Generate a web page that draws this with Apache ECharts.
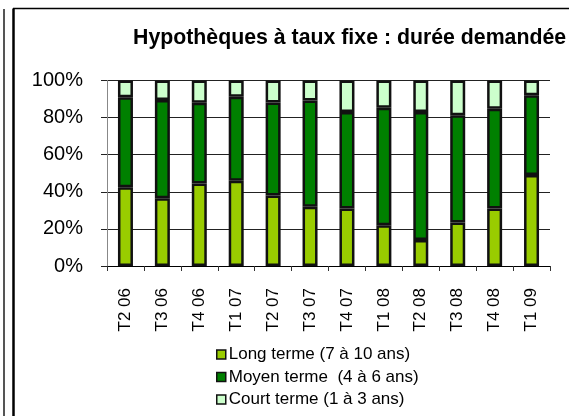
<!DOCTYPE html>
<html>
<head>
<meta charset="utf-8">
<script src="https://cdn.jsdelivr.net/npm/echarts@6/dist/echarts.min.js"></script>
<style>
  html, body { margin: 0; padding: 0; background: #fff; }
  #chart { width: 569px; height: 416px; }
</style>
</head>
<body>
<div id="chart"></div>
<script>
const quarters = ['T2 06', 'T3 06', 'T4 06', 'T1 07', 'T2 07', 'T3 07', 'T4 07', 'T1 08', 'T2 08', 'T3 08', 'T4 08', 'T1 09']
const longTerm = [42.5, 36.5, 44.5, 46, 38, 32, 31, 22, 14, 23.5, 31, 49]
const mediumTerm = [48.5, 53, 43.5, 45.3, 50.2, 57.2, 52, 63.3, 69, 57.8, 53.8, 43.1]
const shortTerm = [9, 10.5, 12, 8.7, 11.8, 10.8, 17, 14.7, 17, 18.7, 15.2, 7.9]
const yTicks = [0, 20, 40, 60, 80, 100]

const font = 'Liberation Sans, Arial, sans-serif'
const chart = echarts.init(document.getElementById('chart'))

function barSeries(name, data, color) {
  return {
    name,
    type: 'bar',
    stack: 'total',
    data,
    barWidth: 15,
    itemStyle: { color, borderColor: '#111', borderWidth: 2.5 },
  }
}

chart.setOption({
  animation: false,
  backgroundColor: '#fff',
  textStyle: { fontFamily: font },
  title: {
    text: 'Hypothèques à taux fixe : durée demandée',
    left: 133,
    top: 28,
    padding: 0,
    textStyle: { fontFamily: font, fontSize: 21.3, fontWeight: 'bold', color: '#000' },
  },
  grid: { left: 107, right: 19, top: 80.5, bottom: 150 },
  legend: {
    orient: 'vertical',
    left: 216,
    top: 346,
    height: 70,
    padding: 0,
    itemWidth: 9,
    itemHeight: 9,
    itemGap: 5.5,
    textStyle: { fontFamily: font, fontSize: 17, color: '#000', lineHeight: 17, padding: [0, 0, 0, -2] },
    itemStyle: { borderColor: '#111', borderWidth: 1.5 },
    icon: 'rect',
    data: ['Long terme (7 à 10 ans)', 'Moyen terme  (4 à 6 ans)', 'Court terme (1 à 3 ans)'],
  },
  xAxis: {
    type: 'category',
    data: quarters,
    axisLine: { lineStyle: { color: '#000', width: 1 } },
    axisTick: { show: true, length: 5, lineStyle: { color: '#333' } },
    axisLabel: { rotate: 90, margin: 22, fontFamily: font, fontSize: 17, color: '#000' },
  },
  yAxis: {
    type: 'value',
    min: yTicks[0],
    max: yTicks[yTicks.length - 1],
    interval: 20,
    axisLine: { show: true, lineStyle: { color: '#888', width: 1 } },
    axisTick: { show: true, length: 6, lineStyle: { color: '#222' } },
    splitLine: { lineStyle: { color: '#222', width: 1 } },
    axisLabel: { margin: 24, fontFamily: font, fontSize: 20, color: '#000', formatter: '{value}%' },
  },
  graphic: [
    { type: 'line', shape: { x1: 4, y1: 9, x2: 4, y2: 416 }, style: { stroke: '#555', lineWidth: 2 } },
    { type: 'line', shape: { x1: 13.5, y1: 8.5, x2: 13.5, y2: 416 }, style: { stroke: '#000', lineWidth: 2.5 } },
    { type: 'line', shape: { x1: 13, y1: 8.5, x2: 569, y2: 8.5 }, style: { stroke: '#000', lineWidth: 1.5 } },
  ],
  series: [
    barSeries('Long terme (7 à 10 ans)', longTerm, '#99CC00'),
    barSeries('Moyen terme  (4 à 6 ans)', mediumTerm, '#008000'),
    barSeries('Court terme (1 à 3 ans)', shortTerm, '#CCFFCC'),
  ],
})
</script>
</body>
</html>
